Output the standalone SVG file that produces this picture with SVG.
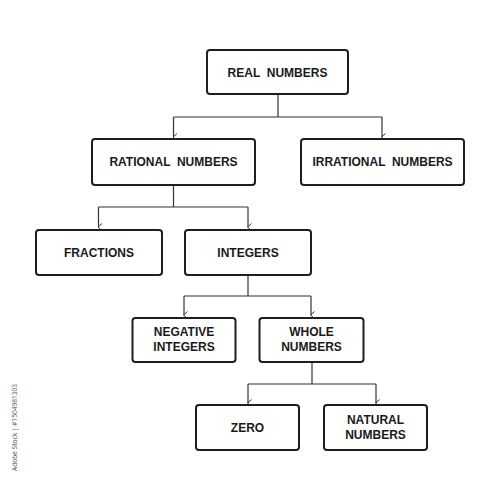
<svg xmlns="http://www.w3.org/2000/svg" width="500" height="500" viewBox="0 0 500 500">
<style>
.box{fill:#fff;stroke:#1e1e1e;stroke-width:2}
.lbl{font-family:"Liberation Sans",Arial,sans-serif;font-weight:bold;font-size:12px;fill:#1a1a1a;text-anchor:middle}
.con{fill:none;stroke:#333;stroke-width:1.2}
</style>
<defs>
<marker id="arr" markerWidth="8" markerHeight="8" refX="4" refY="6" orient="auto-start-reverse" markerUnits="userSpaceOnUse" viewBox="0 0 8 8">
<path d="M0.5,2.5 L4,6.5 L7.5,2.5" fill="none" stroke="#333" stroke-width="1"/>
</marker>
</defs>
<rect width="500" height="500" fill="#fff"/>
<g id="connectors">
<path class="con" d="M278,94 V117"/>
<path class="con" d="M173.5,117 H382"/>
<path class="con" d="M173.5,117 V137" marker-end="url(#arr)"/>
<path class="con" d="M382,117 V137" marker-end="url(#arr)"/>
<path class="con" d="M173.5,185 V207"/>
<path class="con" d="M98.5,207 H248"/>
<path class="con" d="M98.5,207 V227" marker-end="url(#arr)"/>
<path class="con" d="M248,207 V227" marker-end="url(#arr)"/>
<path class="con" d="M248,275 V296"/>
<path class="con" d="M184,296 H311"/>
<path class="con" d="M184,296 V315" marker-end="url(#arr)"/>
<path class="con" d="M311,296 V315" marker-end="url(#arr)"/>
<path class="con" d="M312,362 V384"/>
<path class="con" d="M248,384 H376"/>
<path class="con" d="M248,384 V403" marker-end="url(#arr)"/>
<path class="con" d="M376,384 V403" marker-end="url(#arr)"/>
</g>
<g id="real">
<rect class="box" x="207" y="50" width="141" height="44" rx="3"/>
<text class="lbl" x="277.5" y="76.5" xml:space="preserve">REAL  NUMBERS</text>
</g>
<g id="rational">
<rect class="box" x="92" y="139" width="163" height="46" rx="3"/>
<text class="lbl" x="173.5" y="166" xml:space="preserve">RATIONAL  NUMBERS</text>
</g>
<g id="irrational">
<rect class="box" x="301" y="139" width="163" height="46" rx="3"/>
<text class="lbl" x="382.5" y="166" xml:space="preserve">IRRATIONAL  NUMBERS</text>
</g>
<g id="fractions">
<rect class="box" x="36" y="230" width="126" height="45" rx="3"/>
<text class="lbl" x="99" y="257">FRACTIONS</text>
</g>
<g id="integers">
<rect class="box" x="185" y="230" width="126" height="45" rx="3"/>
<text class="lbl" x="248" y="257">INTEGERS</text>
</g>
<g id="negative">
<rect class="box" x="132.5" y="318" width="103" height="44" rx="3"/>
<text class="lbl" x="184" y="336">NEGATIVE</text>
<text class="lbl" x="184" y="351">INTEGERS</text>
</g>
<g id="whole">
<rect class="box" x="259.5" y="318" width="104" height="44" rx="3"/>
<text class="lbl" x="311.5" y="336">WHOLE</text>
<text class="lbl" x="311.5" y="351">NUMBERS</text>
</g>
<g id="zero">
<rect class="box" x="196" y="405" width="103" height="45" rx="3"/>
<text class="lbl" x="247.5" y="432">ZERO</text>
</g>
<g id="natural">
<rect class="box" x="324" y="405" width="103" height="45" rx="3"/>
<text class="lbl" x="375.5" y="424">NATURAL</text>
<text class="lbl" x="375.5" y="439">NUMBERS</text>
</g>
<text transform="translate(16.5,471) rotate(-90)" font-family="'Open Sans',sans-serif" font-size="7.5" fill="#555" textLength="87" lengthAdjust="spacingAndGlyphs">Adobe Stock | #1504981303</text>
</svg>
